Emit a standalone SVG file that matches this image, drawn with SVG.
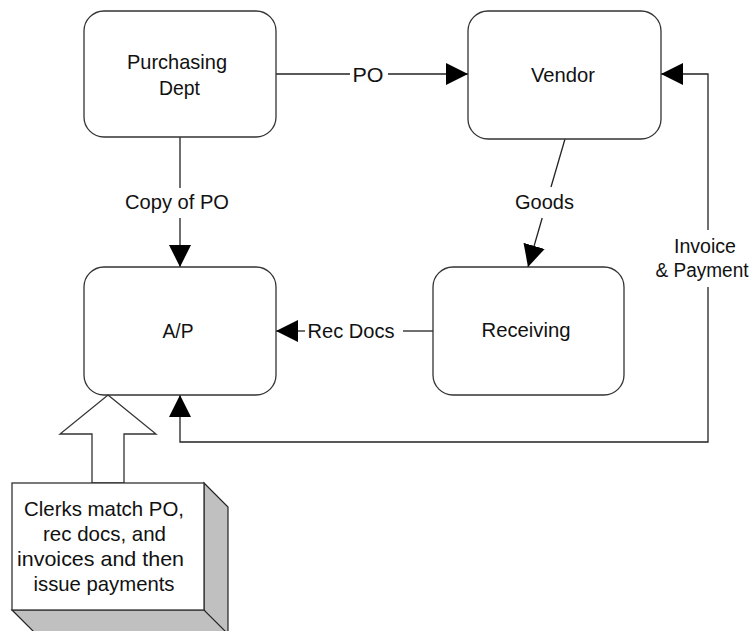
<svg xmlns="http://www.w3.org/2000/svg" width="756" height="631" viewBox="0 0 756 631">
<style>
.box{fill:#fff;stroke:#333;stroke-width:1.3}
.ln{fill:none;stroke:#222;stroke-width:1.3}
.t{font-family:"Liberation Sans",Arial,sans-serif;font-size:21px;fill:#111;text-anchor:middle}
.s{font-size:20px}
.shade{fill:#c0c0c0;stroke:#222;stroke-width:1.2}
</style>
<defs>
<marker id="ah" viewBox="0 0 22 22" refX="22" refY="11" markerWidth="22" markerHeight="22" markerUnits="userSpaceOnUse" orient="auto">
<path d="M0,0 L22,11 L0,22 z" fill="#000"/>
</marker>
</defs>
<rect width="756" height="631" fill="#fff"/>
<g id="connectors">
<path class="ln" d="M276,74 H350"/>
<path class="ln" d="M388,74 H468" marker-end="url(#ah)"/>
<path class="ln" d="M180,137 V188"/>
<path class="ln" d="M180,218 V267" marker-end="url(#ah)"/>
<path class="ln" d="M565,139 L551,187"/>
<path class="ln" d="M542.2,218 L528,267" marker-end="url(#ah)"/>
<path class="ln" d="M433,331 H403"/>
<path class="ln" d="M305,331 H276" marker-end="url(#ah)"/>
<path class="ln" d="M708,230 V74 H661" marker-end="url(#ah)"/>
<path class="ln" d="M708,287 V442 H180 V395" marker-end="url(#ah)"/>
<text class="t" x="368" y="81.5" textLength="31" lengthAdjust="spacingAndGlyphs">PO</text>
<text class="t" x="177" y="209" textLength="104" lengthAdjust="spacingAndGlyphs">Copy of PO</text>
<text class="t" x="544.5" y="209" textLength="59" lengthAdjust="spacingAndGlyphs">Goods</text>
<text class="t" x="351" y="338" textLength="87" lengthAdjust="spacingAndGlyphs">Rec Docs</text>
<text class="t s" x="705" y="253" textLength="62" lengthAdjust="spacingAndGlyphs">Invoice</text>
<text class="t s" x="702" y="277" textLength="93" lengthAdjust="spacingAndGlyphs">&amp; Payment</text>
</g>
<g id="purchasing">
<rect class="box" x="84" y="11" width="192" height="126" rx="20"/>
<text class="t" x="177" y="69" textLength="100" lengthAdjust="spacingAndGlyphs">Purchasing</text>
<text class="t" x="179.5" y="95" textLength="41" lengthAdjust="spacingAndGlyphs">Dept</text>
</g>
<g id="vendor">
<rect class="box" x="468" y="11" width="193" height="128" rx="20"/>
<text class="t" x="563" y="81.5" textLength="64" lengthAdjust="spacingAndGlyphs">Vendor</text>
</g>
<g id="ap">
<rect class="box" x="84" y="267" width="192" height="128" rx="20"/>
<text class="t" x="178" y="338" textLength="31" lengthAdjust="spacingAndGlyphs">A/P</text>
</g>
<g id="receiving">
<rect class="box" x="433" y="267" width="191" height="128" rx="20"/>
<text class="t" x="526" y="337" textLength="89" lengthAdjust="spacingAndGlyphs">Receiving</text>
</g>
<g id="clerks">
<polygon class="box" points="108,395 156,434 124,434 124,483 92,483 92,434 60,434"/>
<polygon class="shade" points="204,483 228,507 228,640 204,610"/>
<polygon class="shade" points="12,610 204,610 228,634 36,634"/>
<rect class="box" x="12" y="483" width="192" height="127"/>
<text class="t" x="104" y="516" textLength="160" lengthAdjust="spacingAndGlyphs">Clerks match PO,</text>
<text class="t" x="104.5" y="541" textLength="123" lengthAdjust="spacingAndGlyphs">rec docs, and</text>
<text class="t" x="100.5" y="566" textLength="167" lengthAdjust="spacingAndGlyphs">invoices and then</text>
<text class="t" x="104" y="591" textLength="141" lengthAdjust="spacingAndGlyphs">issue payments</text>
</g>
</svg>
